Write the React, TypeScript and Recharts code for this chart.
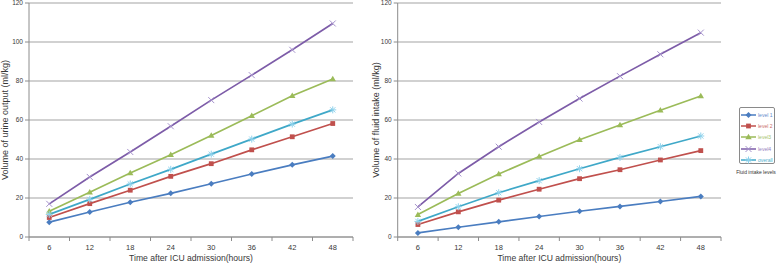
import React from 'react';
import { LineChart, Line, XAxis, YAxis, CartesianGrid, Legend, Label } from 'recharts';

const TIME = [6, 12, 18, 24, 30, 36, 42, 48];
const X_TICKS = [3, 6, 9, 12, 15, 18, 21, 24, 27, 30, 33, 36, 39, 42, 45, 48, 51];
const Y_TICKS = [0, 20, 40, 60, 80, 100, 120];

const URINE_L1 = [7.6, 12.8, 17.8, 22.4, 27.3, 32.3, 37.0, 41.5];
const URINE_L2 = [10.0, 17.1, 24.0, 31.1, 37.6, 44.7, 51.4, 58.2];
const URINE_L3 = [13.2, 23.0, 32.8, 42.2, 52.1, 62.2, 72.4, 81.0];
const URINE_L4 = [17.0, 30.8, 43.6, 56.8, 70.2, 83.0, 96.0, 109.5];
const URINE_ALL = [11.6, 19.3, 27.2, 34.7, 42.5, 50.2, 57.9, 65.2];

const INTAKE_L1 = [2.1, 5.0, 7.8, 10.5, 13.2, 15.7, 18.2, 20.8];
const INTAKE_L2 = [6.4, 12.9, 18.9, 24.5, 29.9, 34.5, 39.5, 44.3];
const INTAKE_L3 = [11.5, 22.3, 32.3, 41.3, 49.9, 57.4, 65.0, 72.3];
const INTAKE_L4 = [15.4, 32.6, 46.3, 59.0, 71.0, 82.5, 93.7, 104.8];
const INTAKE_ALL = [8.0, 15.5, 22.7, 28.9, 35.0, 40.8, 46.3, 51.8];

const SERIES = [
  { key: 'level1', name: 'level 1', color: '#4A7DC0', markColor: '#4A7DC0', textColor: '#5F8ACB', marker: 'diamond' },
  { key: 'level2', name: 'level 2', color: '#C0504D', markColor: '#C0504D', textColor: '#C96A67', marker: 'square' },
  { key: 'level3', name: 'level3', color: '#9BBB59', markColor: '#9BBB59', textColor: '#A5C26B', marker: 'triangle' },
  { key: 'level4', name: 'level4', color: '#7D5CA8', markColor: '#A592CC', textColor: '#9580BE', marker: 'x' },
  { key: 'overall', name: 'overall', color: '#3FA8C8', markColor: '#8FD2EC', textColor: '#4FB0CE', marker: 'star' },
];

const FONT = '"Liberation Sans", Arial, sans-serif';
const TEXT = '#383838';
const GRID = '#a3a3a3';
const AXIS = '#8c8c8c';

function build(l1: number[], l2: number[], l3: number[], l4: number[], all: number[]) {
  return TIME.map((t, i) => ({ time: t, level1: l1[i], level2: l2[i], level3: l3[i], level4: l4[i], overall: all[i] }));
}

const urineData = build(URINE_L1, URINE_L2, URINE_L3, URINE_L4, URINE_ALL);
const intakeData = build(INTAKE_L1, INTAKE_L2, INTAKE_L3, INTAKE_L4, INTAKE_ALL);

function Marker({ kind, cx, cy, color }: { kind: string; cx: number; cy: number; color: string }) {
  if (cx == null || cy == null) return null;
  switch (kind) {
    case 'diamond':
      return <path d={`M${cx},${cy - 3}L${cx + 3},${cy}L${cx},${cy + 3}L${cx - 3},${cy}Z`} fill={color} />;
    case 'square':
      return <rect x={cx - 2.4} y={cy - 2.4} width={4.8} height={4.8} fill={color} />;
    case 'triangle':
      return <path d={`M${cx},${cy - 3.2}L${cx + 3.2},${cy + 2.3}L${cx - 3.2},${cy + 2.3}Z`} fill={color} />;
    case 'x':
      return (
        <path d={`M${cx - 3},${cy - 3}L${cx + 3},${cy + 3}M${cx - 3},${cy + 3}L${cx + 3},${cy - 3}`} stroke={color} strokeWidth={1} fill="none" />
      );
    case 'star':
      return (
        <path
          d={`M${cx - 3.5},${cy}L${cx + 3.5},${cy}M${cx},${cy - 3.5}L${cx},${cy + 3.5}M${cx - 2.6},${cy - 2.6}L${cx + 2.6},${cy + 2.6}M${cx - 2.6},${cy + 2.6}L${cx + 2.6},${cy - 2.6}`}
          stroke={color}
          strokeWidth={1}
          fill="none"
        />
      );
    default:
      return null;
  }
}

function XTick(props: any) {
  const { x, y, payload } = props;
  const v = payload.value;
  if (v % 6 === 3) {
    return <line x1={x} y1={y} x2={x} y2={y + 4} stroke={AXIS} strokeWidth={1} />;
  }
  return (
    <text x={x} y={y + 13} textAnchor="middle" fontSize={7.5} fill={TEXT} fontFamily={FONT}>
      {v}
    </text>
  );
}

function YTitle(text: string, dx: number) {
  return (props: any) => {
    const vb = props.viewBox || {};
    const cx = vb.x + dx;
    const cy = vb.y + vb.height / 2;
    return (
      <text
        x={cx}
        y={cy}
        transform={`rotate(-90, ${cx}, ${cy})`}
        textAnchor="middle"
        dominantBaseline="central"
        fontSize={9}
        fill={TEXT}
        fontFamily={FONT}
      >
        {text}
      </text>
    );
  };
}

function XTitle(props: any) {
  const vb = props.viewBox || {};
  const cx = vb.x + vb.width / 2;
  return (
    <text x={cx} y={vb.y + 24} textAnchor="middle" fontSize={8.6} fill={TEXT} fontFamily={FONT}>
      Time after ICU admission(hours)
    </text>
  );
}

function LegendContent(props: any) {
  const payload = props.payload || [];
  return (
    <div style={{ width: 42, fontFamily: FONT }}>
      <div
        style={{
          marginLeft: 4,
          width: 36,
          height: 57,
          border: '1px solid #8a8a8a',
          borderRadius: 2,
          boxSizing: 'border-box',
          paddingTop: 1,
        }}
      >
        {payload.map((entry: any) => {
          const s = SERIES.find((q) => q.key === entry.dataKey) || SERIES[0];
          return (
            <div key={s.key} style={{ display: 'flex', alignItems: 'center', height: 11.4 }}>
              <svg width={17} height={8} style={{ display: 'block' }}>
                <line x1={1} y1={4} x2={16} y2={4} stroke={s.color} strokeWidth={1.5} />
                <Marker kind={s.marker} cx={8.5} cy={4} color={s.markColor} />
              </svg>
              <span style={{ fontSize: 5, color: s.textColor, marginLeft: 1, whiteSpace: 'nowrap', lineHeight: '6px' }}>
                {entry.value}
              </span>
            </div>
          );
        })}
      </div>
      <div style={{ fontSize: 5, color: '#333', marginTop: 5, whiteSpace: 'nowrap', lineHeight: '6px', textAlign: 'center' }}>
        Fluid intake levels
      </div>
    </div>
  );
}

function renderLines() {
  return SERIES.map((s) => (
    <Line
      key={s.key}
      type="linear"
      dataKey={s.key}
      name={s.name}
      stroke={s.color}
      strokeWidth={1.7}
      isAnimationActive={false}
      activeDot={false}
      dot={(p: any) => <Marker key={`${s.key}-${p.index}`} kind={s.marker} cx={p.cx} cy={p.cy} color={s.markColor} />}
    />
  ));
}

function Axes(title: string, titleDx: number, yWidth: number) {
  return [
    <CartesianGrid key="grid" vertical={false} stroke={GRID} strokeWidth={1} />,
    <XAxis
      key="x"
      dataKey="time"
      type="number"
      domain={[3, 51]}
      ticks={X_TICKS}
      interval={0}
      height={28}
      tickSize={0}
      tickMargin={0}
      tickLine={false}
      tick={<XTick />}
      axisLine={{ stroke: AXIS }}
      allowDataOverflow
    >
      <Label content={<XTitle />} />
    </XAxis>,
    <YAxis
      key="y"
      type="number"
      domain={[0, 120]}
      ticks={Y_TICKS}
      interval={0}
      width={yWidth}
      tickSize={4}
      tickMargin={2}
      tickLine={{ stroke: AXIS }}
      axisLine={{ stroke: AXIS }}
      tick={{ fontSize: 6.5, fill: TEXT, fontFamily: FONT }}
    >
      <Label content={YTitle(title, titleDx)} />
    </YAxis>,
  ];
}

export default function App() {
  return (
    <div style={{ position: 'absolute', left: 0, top: 0, width: 778, height: 265, background: '#fff', overflow: 'hidden' }}>
      <div style={{ position: 'absolute', left: 0, top: 0 }}>
        <LineChart width={368} height={265} data={urineData} margin={{ top: 3, right: 15, left: 0, bottom: 0 }}>
          {Axes('Volume of urine output (ml/kg)', 4.7, 29)}
          {renderLines()}
        </LineChart>
      </div>
      <div style={{ position: 'absolute', left: 368, top: 0 }}>
        <LineChart width={410} height={265} data={intakeData} margin={{ top: 3, right: 15, left: 0, bottom: 0 }}>
          {Axes('Volume of fluid intake (ml/kg)', 7.7, 29.7)}
          {renderLines()}
          <Legend
            layout="vertical"
            align="right"
            verticalAlign="top"
            wrapperStyle={{ right: 1, top: 107, width: 42 }}
            content={<LegendContent />}
          />
        </LineChart>
      </div>
    </div>
  );
}
